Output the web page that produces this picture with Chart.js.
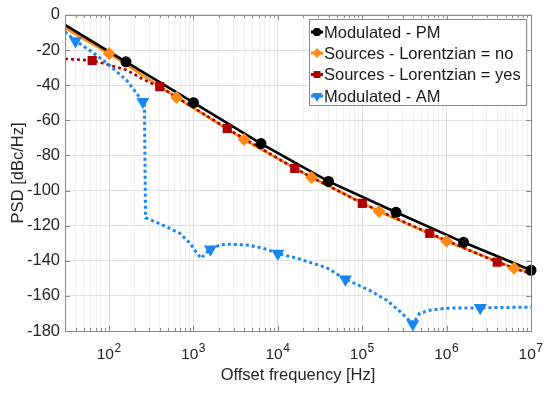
<!DOCTYPE html>
<html><head><meta charset="utf-8">
<script src="https://cdn.jsdelivr.net/npm/chart.js@4/dist/chart.umd.min.js"></script>
<style>html,body{margin:0;padding:0;background:#fff}</style>
</head><body>
<canvas id="c" width="550" height="393"></canvas>
<script>
// ---- Data ----
const seriesNames = ['Modulated - PM', 'Sources - Lorentzian = no', 'Sources - Lorentzian = yes', 'Modulated - AM'];

const pmFreq = [30, 158.5, 1000, 6310, 39811, 251189, 1584893, 1e7];
const pmPSD  = [-5.7, -26.7, -50, -73.3, -94.8, -112.4, -129.5, -145.4];
const pmMarkFreq = [158.5, 1000, 6310, 39811, 251189, 1584893, 1e7];
const pmMarkPSD  = [-26.7, -50, -73.3, -94.8, -112.4, -129.5, -145.4];

const noFreq = [30, 100, 631, 3981, 25119, 158489, 1e6, 6.31e6, 1e7];
const noPSD  = [-7.5, -22, -47, -71, -92.6, -111.9, -128.9, -144.2, -147];
const noMarkFreq = [100, 631, 3981, 25119, 158489, 1e6, 6.31e6];
const noMarkPSD  = [-22, -47, -71, -92.6, -111.9, -128.9, -144.2];

const yesFreq = [30, 63, 80, 118, 163, 234, 306, 398, 2512, 15849, 1e5, 631000, 3.98e6, 1e7];
const yesPSD  = [-25, -26, -27.3, -29.5, -31.5, -35.8, -38.6, -40.9, -64.7, -87.4, -107.3, -124.4, -140.8, -147.5];
const yesMarkFreq = [63, 398, 2512, 15849, 1e5, 631000, 3.98e6];
const yesMarkPSD  = [-26, -40.9, -64.7, -87.4, -107.3, -124.4, -140.8];

const amFreq = [30, 40, 65, 103, 163, 214, 251, 262, 270, 436, 690, 910, 1100, 1230, 1480, 1585, 2070, 2700, 4300, 6700, 1e4, 17000, 38000, 63096, 123000, 195000, 282000, 398107, 480000, 631000, 1e6, 2.5e6, 1e7];
const amPSD  = [-9.6, -14.8, -21.6, -29, -37.5, -45, -49.4, -50.5, -115.5, -119.8, -124.4, -130, -135.7, -138.6, -134.5, -133.5, -131, -130.6, -131, -132.9, -135.9, -138.6, -144, -150.5, -156.9, -162.5, -169, -176, -169.8, -168.2, -167, -166.8, -166.4];
const amMarkFreq = [40, 251, 1585, 1e4, 63096, 398107, 2.5e6];
const amMarkPSD  = [-14.8, -49.4, -133.5, -135.9, -150.5, -176, -166.8];

const yTicks = [0, -20, -40, -60, -80, -100, -120, -140, -160, -180];
const xTickExponents = [2, 3, 4, 5, 6, 7];

// ---- Styles ----
const FONT = '"Liberation Sans", Arial, sans-serif';
const colPM = '#000000', colNo = '#ff8a14', colYes = '#b00000', colAM = '#1a86f0';
const pts = (xs, ys) => xs.map((x, i) => ({x: x, y: ys[i]}));

const styles = [
  {color: colPM,  dash: [],     style: 'circle',  r: 5.5, rot: 0,   lw: 2.6},
  {color: colNo,  dash: [],     style: 'rectRot', r: 6.5, rot: 0,   lw: 2.6},
  {color: colYes, dash: [3, 3], style: 'rect',    r: 6.5, rot: 0,   lw: 2.6},
  {color: colAM,  dash: [3, 3], style: 'triangle',r: 7.5, rot: 180, lw: 3}
];

function lineDS(data, s, order) {
  return {data: data, borderColor: s.color, backgroundColor: s.color, borderWidth: s.lw,
    borderDash: s.dash, pointRadius: 0, pointHoverRadius: 0, tension: 0, fill: false, order: order, showLine: true};
}
function markDS(data, s, order) {
  return {data: data, showLine: false, borderColor: s.color, backgroundColor: s.color, borderWidth: 0,
    pointStyle: s.style, pointRadius: s.r, pointHoverRadius: s.r, rotation: s.rot, order: order, clip: false};
}

const minorX = [];
for (let p = 1; p <= 6; p++) for (let m = 1; m <= 9; m++) { const v = m * Math.pow(10, p); if (v >= 30) minorX.push(v); }
minorX.push(1e7);
const isMajor = v => Math.abs(Math.log10(v) - Math.round(Math.log10(v))) < 1e-9;

const boxPlugin = {
  id: 'boxPlugin',
  afterDraw(chart) {
    const ctx = chart.ctx, a = chart.chartArea, xs = chart.scales.x, ys = chart.scales.y;
    ctx.save();
    ctx.strokeStyle = '#8a8a8a'; ctx.lineWidth = 1;
    ctx.strokeRect(Math.round(a.left) + 0.5, Math.round(a.top) + 0.5, Math.round(a.right - a.left), Math.round(a.bottom - a.top));
    ctx.beginPath();
    xs.ticks.forEach(t => {
      const x = Math.round(xs.getPixelForValue(t.value)) + 0.5;
      const len = isMajor(t.value) ? 5 : 3;
      ctx.moveTo(x, a.bottom); ctx.lineTo(x, a.bottom - len);
      ctx.moveTo(x, a.top); ctx.lineTo(x, a.top + len);
    });
    ys.ticks.forEach(t => {
      const y = Math.round(ys.getPixelForValue(t.value)) + 0.5;
      ctx.moveTo(a.left, y); ctx.lineTo(a.left + 5, y);
      ctx.moveTo(a.right, y); ctx.lineTo(a.right - 5, y);
    });
    ctx.stroke();
    // x tick labels: 10^n
    ctx.fillStyle = '#262626';
    ctx.textBaseline = 'alphabetic'; ctx.textAlign = 'left';
    xTickExponents.forEach(e => {
      const x = xs.getPixelForValue(Math.pow(10, e));
      ctx.font = '15.5px ' + FONT; const w1 = ctx.measureText('10').width;
      ctx.font = '12px ' + FONT; const w2 = ctx.measureText(String(e)).width;
      const x0 = x - (w1 + w2) / 2 - 0.5;
      ctx.font = '15.5px ' + FONT; ctx.fillText('10', x0, 358.5);
      ctx.font = '12px ' + FONT; ctx.fillText(String(e), x0 + w1 + 0.5, 352);
    });
    // legend
    const lx = 309.5, ly = 19.5, lw = 217, lh = 86;
    ctx.fillStyle = '#ffffff'; ctx.fillRect(lx, ly, lw, lh);
    ctx.strokeStyle = '#8a8a8a'; ctx.strokeRect(lx, ly, lw, lh);
    const rows = [32, 53, 74.5, 96];
    seriesNames.forEach((name, i) => {
      const s = styles[i], y = rows[i];
      ctx.strokeStyle = s.color; ctx.lineWidth = 3; ctx.setLineDash([]);
      ctx.beginPath(); ctx.moveTo(311, y); ctx.lineTo(323, y); ctx.stroke();
      ctx.fillStyle = s.color;
      Chart.helpers.drawPoint(ctx, {pointStyle: s.style, rotation: s.rot, radius: s.r * 0.72, borderWidth: 0}, 317, y);
      ctx.fill();
      ctx.fillStyle = '#1a1a1a'; ctx.font = '16.5px ' + FONT; ctx.textBaseline = 'middle';
      ctx.fillText(name, 324, y + 1);
    });
    ctx.restore();
  }
};

new Chart(document.getElementById('c'), {
  type: 'line',
  data: {
    datasets: [
      markDS(pts(pmMarkFreq, pmMarkPSD), styles[0], 0),
      markDS(pts(noMarkFreq, noMarkPSD), styles[1], 0),
      markDS(pts(yesMarkFreq, yesMarkPSD), styles[2], 0),
      markDS(pts(amMarkFreq, amMarkPSD), styles[3], 0),
      lineDS(pts(pmFreq, pmPSD), styles[0], 3),
      lineDS(pts(noFreq, noPSD), styles[1], 5),
      lineDS(pts(yesFreq, yesPSD), styles[2], 4),
      lineDS(pts(amFreq, amPSD), styles[3], 2)
    ]
  },
  options: {
    responsive: false, devicePixelRatio: 1, animation: false,
    layout: {padding: {left: 0, right: 19, top: 14, bottom: 0}},
    plugins: {legend: {display: false}, tooltip: {enabled: false}},
    scales: {
      x: {
        type: 'logarithmic', min: 30, max: 1e7,
        afterBuildTicks: s => { s.ticks = minorX.map(v => ({value: v, major: isMajor(v)})); },
        afterFit: s => { s.height = 62; },
        ticks: {display: false, autoSkip: false},
        grid: {color: c => (c.tick && isMajor(c.tick.value)) ? '#e0e0e0' : '#f0f0f0', drawTicks: false, lineWidth: 1},
        border: {display: false},
        title: {display: true, text: 'Offset frequency [Hz]', color: '#262626', font: {family: FONT, size: 16.5}, padding: {top: 0, bottom: 8}}
      },
      y: {
        type: 'linear', min: -180, max: 0,
        afterBuildTicks: s => { s.ticks = yTicks.map(v => ({value: v})); },
        afterFit: s => { s.width = 65; },
        ticks: {color: '#262626', font: {family: FONT, size: 16.5}, padding: 5, autoSkip: false},
        grid: {color: '#e0e0e0', drawTicks: false},
        border: {display: false},
        title: {display: true, text: 'PSD [dBc/Hz]', color: '#262626', font: {family: FONT, size: 16.5}, padding: {top: 9, bottom: 0}}
      }
    }
  },
  plugins: [boxPlugin]
});
</script>
</body></html>
